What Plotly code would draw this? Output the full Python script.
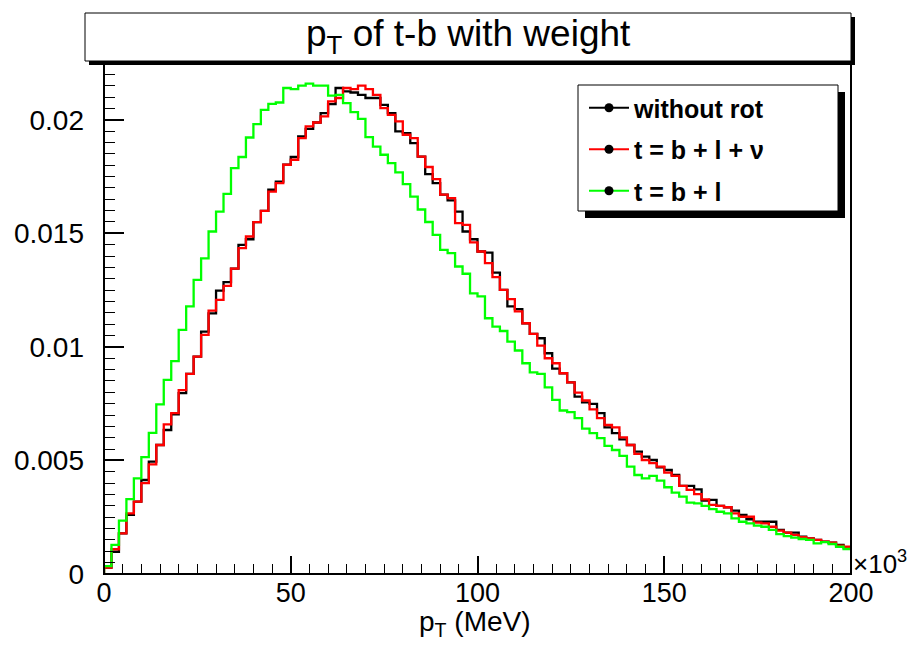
import numpy as np
import plotly.graph_objects as go

# bin edges: 100 bins from 0 to 200 (x10^3 MeV)
n_bins = 100
x_lo, x_hi = 0.0, 200.0

# values in units of 1e-3
without_rot = [0.28, 0.98, 1.79, 2.6, 3.19, 4.14, 4.95, 5.68, 6.34, 7.03,
               7.96, 8.81, 9.57, 10.67, 11.48, 12.48, 12.85, 13.45, 14.49, 14.74,
               15.49, 15.99, 16.92, 17.28, 18.02, 18.36, 19.27, 19.6, 19.88, 20.29,
               20.69, 21.4, 21.25, 21.2, 21.1, 20.96, 20.96, 20.66, 20.29, 19.49,
               19.41, 18.97, 18.38, 17.61, 17.21, 16.7, 16.45, 15.96, 15.08, 14.74,
               14.2, 14.15, 13.27, 12.51, 11.78, 11.66, 11.04, 10.57, 10.38, 9.72,
               9.04, 8.84, 8.44, 7.81, 7.56, 7.49, 7.08, 6.46, 6.2, 5.93,
               5.68, 5.39, 5.17, 5.02, 4.7, 4.58, 4.36, 3.88, 3.88, 3.73,
               3.23, 3.26, 3.0, 2.94, 2.79, 2.6, 2.41, 2.3, 2.3, 2.3,
               1.94, 1.82, 1.82, 1.64, 1.57, 1.5, 1.42, 1.38, 1.28, 1.17]

t_bl_nu = [0.28, 1.09, 1.79, 2.67, 3.19, 4.0, 4.83, 5.68, 6.59, 7.08,
           8.1, 8.81, 9.57, 10.53, 11.6, 12.07, 12.69, 13.45, 14.35, 14.86,
           15.49, 15.99, 16.84, 17.21, 18.02, 18.24, 19.19, 19.71, 19.88, 20.15,
           20.81, 20.96, 21.4, 21.35, 21.5, 21.35, 21.1, 20.51, 20.22, 19.93,
           19.34, 19.19, 18.38, 17.92, 17.39, 16.7, 16.55, 15.45, 15.37, 14.6,
           14.2, 13.69, 13.07, 12.51, 12.1, 11.56, 11.04, 10.57, 10.06, 9.5,
           9.28, 8.84, 8.44, 7.99, 7.64, 7.25, 6.86, 6.56, 6.46, 6.02,
           5.68, 5.29, 5.02, 4.88, 4.73, 4.46, 4.32, 3.88, 3.7, 3.52,
           3.29, 3.04, 3.0, 2.94, 2.67, 2.52, 2.52, 2.26, 2.23, 2.08,
           1.91, 1.82, 1.72, 1.62, 1.57, 1.5, 1.42, 1.38, 1.25, 1.2]

t_bl = [0.35, 1.28, 2.35, 3.30, 4.21, 5.15, 6.21, 7.47, 8.55, 9.37,
        10.75, 11.78, 12.95, 13.9, 15.08, 15.96, 16.74, 17.87, 18.36, 19.22,
        19.81, 20.44, 20.7, 20.76, 21.4, 21.35, 21.5, 21.59, 21.5, 21.5,
        21.06, 21.1, 20.73, 20.34, 20.04, 19.24, 18.82, 18.46, 18.09, 17.68,
        17.17, 16.62, 16.05, 15.5, 14.93, 14.27, 14.13, 13.54, 13.22, 12.36,
        12.22, 11.26, 10.89, 10.7, 10.23, 9.84, 9.28, 8.88, 8.81, 8.22,
        7.67, 7.2, 7.13, 6.86, 6.4, 6.2, 5.98, 5.64, 5.46, 5.2,
        4.73, 4.36, 4.21, 4.32, 4.11, 3.82, 3.58, 3.41, 3.14, 3.11,
        3.0, 2.86, 2.74, 2.67, 2.45, 2.3, 2.23, 2.13, 2.08, 1.94,
        1.76, 1.67, 1.6, 1.54, 1.5, 1.35, 1.4, 1.32, 1.2, 1.1]

series_names = ["without rot", "t = b + l + \u03bd", "t = b + l"]
series_colors = ["#000000", "#ff0000", "#00ff00"]
series_values = [without_rot, t_bl_nu, t_bl]

x_ticks = [0, 50, 100, 150, 200]
y_ticks = [0, 0.005, 0.01, 0.015, 0.02]
y_tick_text = ["0", "0.005", "0.01", "0.015", "0.02"]

FONT = "Liberation Sans, Arial, Helvetica, sans-serif"
W, H = 914, 648
L, R, T, B = 104, 63, 63, 74
PW, PH = W - L - R, H - T - B


def px(xp):
    return (xp - L) / PW


def py(yp):
    return (H - B - yp) / PH


edges = np.linspace(x_lo, x_hi, n_bins + 1)
fig = go.Figure()
for name, col, vals in zip(series_names, series_colors, series_values):
    v = np.asarray(vals) * 1e-3
    xs = np.concatenate([[edges[0]], edges])
    ys = np.concatenate([[0.0], v, [v[-1]]])
    fig.add_trace(go.Scatter(x=xs, y=ys, mode="lines", line=dict(color=col, width=2.3, shape="hv"),
                             showlegend=False, hoverinfo="skip"))

# legend entries
for i, (name, col) in enumerate(zip(series_names, series_colors)):
    fig.add_trace(go.Scatter(x=[None], y=[None], mode="lines+markers", name=name,
                             legendgroup=f"g{i}",
                             line=dict(color=col, width=2),
                             marker=dict(color="black", size=9)))

shapes = []
# title box with shadow
shapes.append(dict(type="rect", xref="paper", yref="paper", x0=px(89), x1=px(855), y0=py(65), y1=py(17),
                   fillcolor="black", line=dict(width=0), layer="above"))
shapes.append(dict(type="rect", xref="paper", yref="paper", x0=px(85), x1=px(851), y0=py(61), y1=py(13),
                   fillcolor="white", line=dict(color="black", width=1), layer="above"))
# legend box with shadow
shapes.append(dict(type="rect", xref="paper", yref="paper", x0=px(585), x1=px(845), y0=py(218), y1=py(92),
                   fillcolor="black", line=dict(width=0), layer="above"))
shapes.append(dict(type="rect", xref="paper", yref="paper", x0=px(578), x1=px(838), y0=py(211), y1=py(85),
                   fillcolor="white", line=dict(color="black", width=1), layer="above"))
# frame
shapes.append(dict(type="rect", xref="paper", yref="paper", x0=0, x1=1, y0=0, y1=1,
                   line=dict(color="black", width=2), layer="above"))

annotations = [
    dict(text="p<sub>T</sub> of t-b with weight", xref="paper", yref="paper", x=px(468), y=py(36),
         showarrow=False, font=dict(family=FONT, size=37, color="black"), xanchor="center", yanchor="middle"),
    dict(text="p<sub>T</sub> (MeV)", xref="paper", yref="paper", x=px(475), y=py(624),
         showarrow=False, font=dict(family=FONT, size=28, color="black"), xanchor="center", yanchor="middle"),
    dict(text="\u00d710<sup>3</sup>", xref="paper", yref="paper", x=px(851), y=py(562),
         showarrow=False, font=dict(family=FONT, size=26, color="black"), xanchor="left", yanchor="middle"),
]

fig.update_layout(
    width=W, height=H,
    margin=dict(l=L, r=R, t=T, b=B, pad=0),
    paper_bgcolor="white", plot_bgcolor="white",
    font=dict(family=FONT, color="black"),
    showlegend=True,
    legend=dict(x=px(584), y=py(85), xanchor="left", yanchor="top",
                bgcolor="rgba(0,0,0,0)", borderwidth=0,
                font=dict(family=FONT, size=25, color="black", weight="bold"),
                tracegroupgap=6, itemwidth=40),
    shapes=shapes,
    annotations=annotations,
    xaxis=dict(range=[x_lo, x_hi], tickvals=x_ticks, ticks="inside", ticklen=18, tickwidth=1.5,
               tickcolor="black", showgrid=False, zeroline=False, showline=False,
               tickfont=dict(family=FONT, size=27, color="black"),
               minor=dict(dtick=5, ticks="inside", ticklen=10, tickwidth=1.2, tickcolor="black", showgrid=False)),
    yaxis=dict(range=[0, 0.0225], tickvals=y_ticks, ticktext=y_tick_text, ticks="inside", ticklen=20,
               tickwidth=1.5, tickcolor="black", showgrid=False, zeroline=False, showline=False,
               tickfont=dict(family=FONT, size=28, color="black"), ticklabelstandoff=19,
               minor=dict(dtick=0.0005, ticks="inside", ticklen=11, tickwidth=1.2, tickcolor="black",
                          showgrid=False)),
)

fig.write_html("out.html", config={"displayModeBar": False},
               post_script="document.body.style.margin='0px';document.body.style.overflow='hidden';")
